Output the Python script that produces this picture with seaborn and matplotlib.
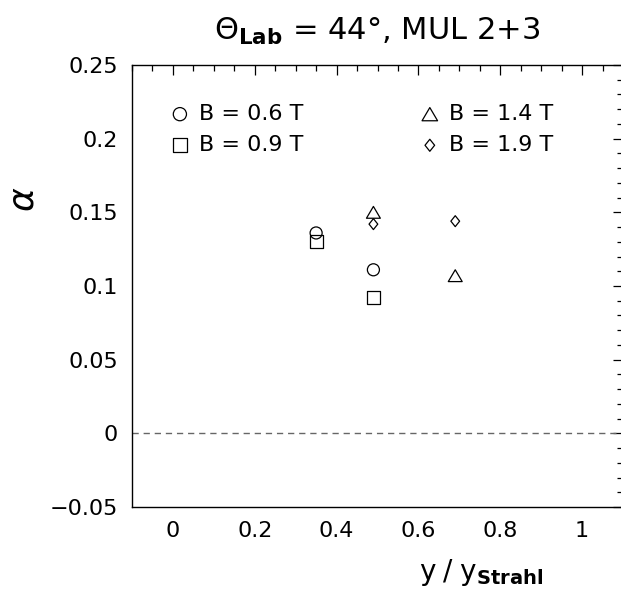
import numpy as np
import pandas as pd
import matplotlib
matplotlib.use("Agg")
import matplotlib.pyplot as plt
from matplotlib.markers import MarkerStyle
from matplotlib.path import Path
from matplotlib.ticker import MultipleLocator, FixedLocator, FixedFormatter
import seaborn as sns

# ---- data -------------------------------------------------------------
labels = ["B = 0.6 T", "B = 0.9 T", "B = 1.4 T", "B = 1.9 T"]
x_06 = [0.35, 0.49]
y_06 = [0.136, 0.111]
x_09 = [0.35, 0.49]
y_09 = [0.130, 0.092]
x_14 = [0.49, 0.69]
y_14 = [0.150, 0.107]
x_19 = [0.49, 0.69]
y_19 = [0.142, 0.144]

x_ticks = [0, 0.2, 0.4, 0.6, 0.8, 1.0]
x_tick_labels = ["0", "0.2", "0.4", "0.6", "0.8", "1"]
y_ticks = [-0.05, 0, 0.05, 0.1, 0.15, 0.2, 0.25]
y_tick_labels = ["\u22120.05", "0", "0.05", "0.1", "0.15", "0.2", "0.25"]

# ---- style ------------------------------------------------------------
sns.set_theme(style="white")
plt.rcParams["font.family"] = ["DejaVu Sans"]
plt.rcParams["mathtext.fontset"] = "dejavusans"
plt.rcParams["text.color"] = "black"

fig = plt.figure(figsize=(6.21, 5.94), dpi=100)
ax = fig.add_axes([132 / 621, 87 / 594, 491 / 621, 442 / 594])

tri = MarkerStyle(Path([(-1, -0.85), (1, -0.85), (0, 0.85), (-1, -0.85)],
                       [Path.MOVETO, Path.LINETO, Path.LINETO, Path.CLOSEPOLY]))
dia = MarkerStyle(Path([(0, 1), (0.8, 0), (0, -1), (-0.8, 0), (0, 1)],
                       [Path.MOVETO, Path.LINETO, Path.LINETO, Path.LINETO,
                        Path.CLOSEPOLY]))

series = [
    (x_06, y_06, "o", 75),
    (x_09, y_09, "s", 88),
    (x_14, y_14, tri, 100),
    (x_19, y_19, dia, 62),
]

for (xs, ys, mk, size), lab in zip(series, labels):
    df = pd.DataFrame({"x": xs, "y": ys})
    sns.scatterplot(data=df, x="x", y="y", ax=ax, marker=mk, s=size,
                    facecolor="none", edgecolor="black", linewidth=0.9,
                    label=lab, zorder=3)

ax.axhline(0, color="0.4", lw=1.0, ls=(0, (4.5, 3.5)), zorder=1)

ax.set_xlim(-0.1, 1.1)
ax.set_ylim(-0.05, 0.25)

ax.xaxis.set_major_locator(FixedLocator(x_ticks))
ax.xaxis.set_major_formatter(FixedFormatter(x_tick_labels))
ax.xaxis.set_minor_locator(MultipleLocator(0.05))
ax.yaxis.set_major_locator(FixedLocator(y_ticks))
ax.yaxis.set_major_formatter(FixedFormatter(y_tick_labels))
ax.yaxis.set_minor_locator(MultipleLocator(0.01))

ax.tick_params(which="both", direction="in", top=True, right=True,
               color="black", width=0.9, labelsize=16, labelcolor="black")
ax.tick_params(which="major", length=7.5)
ax.tick_params(which="minor", length=4)
ax.tick_params(axis="x", which="major", pad=10)
ax.tick_params(axis="y", which="major", pad=10)

for sp in ax.spines.values():
    sp.set_visible(True)
    sp.set_color("black")
    sp.set_linewidth(1.0)

ax.set_title(r"$\Theta_{\mathbf{Lab}}$ = 44°, MUL 2+3", fontsize=22,
             pad=18, color="black")

ax.set_xlabel(r"$\mathrm{y\;/\;y}_{\mathbf{Strahl}}$", fontsize=20,
              color="black", ha="right", va="top")
ax.xaxis.set_label_coords(0.837, -0.112)
ax.set_ylabel(r"$\alpha$", fontsize=26, color="black")
ax.yaxis.set_label_coords(-0.187, 0.695)

leg = ax.legend(ncol=2, loc="upper left", frameon=False, fontsize=16,
                bbox_to_anchor=(171 / 621, 1 - 104 / 594),
                bbox_transform=fig.transFigure, borderaxespad=0,
                borderpad=0, handlelength=0.8, handletextpad=0.45,
                columnspacing=5.3, labelspacing=0.5)
for h, sz in zip(leg.legend_handles, [90, 100, 125, 75]):
    h.set_sizes([sz])

fig.savefig("out.png", dpi=100)
